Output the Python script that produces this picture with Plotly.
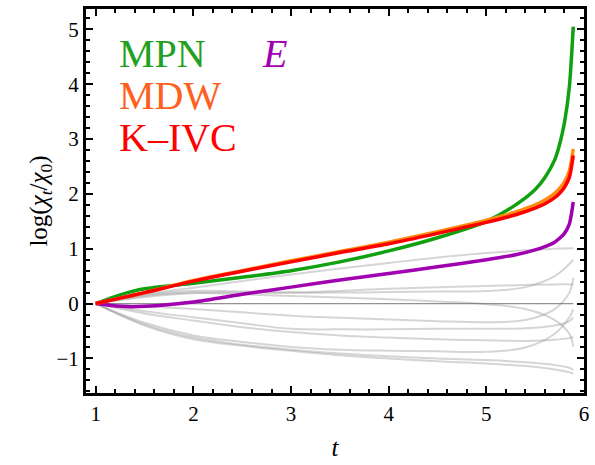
import plotly.graph_objects as go

# ---- data ----
t_main = [1.0, 1.25, 1.5, 2.0, 2.5, 3.0, 3.5, 4.0, 4.5, 5.0, 5.3, 5.5, 5.6, 5.7, 5.75, 5.8, 5.85, 5.89]
mpn   = [0.0, 0.16, 0.27, 0.37, 0.48, 0.60, 0.76, 0.96, 1.20, 1.50, 1.80, 2.08, 2.30, 2.62, 2.90, 3.30, 3.95, 5.05]
mdw   = [0.0, 0.10, 0.20, 0.42, 0.60, 0.78, 0.95, 1.12, 1.31, 1.52, 1.67, 1.80, 1.89, 2.01, 2.10, 2.22, 2.42, 2.82]
kivc  = [0.0, 0.10, 0.20, 0.41, 0.59, 0.76, 0.93, 1.09, 1.28, 1.48, 1.62, 1.74, 1.82, 1.93, 2.01, 2.12, 2.30, 2.70]
e_sym = [0.0, -0.05, -0.05, 0.03, 0.17, 0.30, 0.43, 0.55, 0.67, 0.80, 0.89, 0.98, 1.04, 1.12, 1.19, 1.28, 1.45, 1.85]

t_gray = [1.0, 1.5, 2.0, 2.5, 3.0, 3.5, 4.0, 4.5, 5.0, 5.4, 5.7, 5.85, 5.89]
gray_curves = [
    [0, 0.17, 0.29, 0.41, 0.53, 0.64, 0.74, 0.84, 0.92, 0.97, 1.00, 1.01, 1.01],
    [0, 0.16, 0.23, 0.22, 0.20, 0.20, 0.21, 0.22, 0.23, 0.30, 0.50, 0.72, 0.80],
    [0, 0.14, 0.20, 0.20, 0.20, 0.23, 0.27, 0.30, 0.32, 0.34, 0.35, 0.35, 0.35],
    [0, 0.12, 0.19, 0.17, 0.14, 0.11, 0.08, 0.04, -0.01, -0.10, -0.30, -0.55, -0.79],
    [0, -0.05, -0.10, -0.16, -0.22, -0.26, -0.29, -0.32, -0.34, -0.30, -0.10, 0.20, 0.47],
    [0, -0.14, -0.25, -0.36, -0.46, -0.47, -0.47, -0.46, -0.46, -0.45, -0.40, -0.32, -0.25],
    [0, -0.18, -0.31, -0.43, -0.52, -0.58, -0.62, -0.65, -0.67, -0.68, -0.66, -0.63, -0.61],
    [0, -0.35, -0.58, -0.70, -0.79, -0.84, -0.86, -0.87, -0.88, -0.80, -0.55, -0.25, -0.10],
    [0, -0.38, -0.62, -0.75, -0.84, -0.91, -0.96, -1.00, -1.03, -1.07, -1.12, -1.17, -1.21],
    [0, -0.40, -0.65, -0.77, -0.86, -0.94, -1.00, -1.05, -1.09, -1.14, -1.20, -1.25, -1.28],
]
zero_curve = [0] * len(t_gray)

x_ticks = [1, 2, 3, 4, 5, 6]
y_ticks = [-1, 0, 1, 2, 3, 4, 5]

fig = go.Figure()

for g in gray_curves:
    fig.add_trace(go.Scatter(x=t_gray, y=g, mode="lines",
                             line=dict(color="rgba(150,150,150,0.4)", width=2, shape="spline"),
                             hoverinfo="skip", showlegend=False))
fig.add_trace(go.Scatter(x=t_gray, y=zero_curve, mode="lines",
                         line=dict(color="rgba(110,110,110,0.75)", width=1.4),
                         hoverinfo="skip", showlegend=False))

main = [(e_sym, "#a000b0"), (mpn, "#10a010"), (mdw, "#ff8c10"), (kivc, "#ff0000")]
for vals, col in main:
    fig.add_trace(go.Scatter(x=t_main, y=vals, mode="lines",
                             line=dict(color=col, width=3.5, shape="spline", smoothing=0.7),
                             showlegend=False))

lab_font = "Liberation Serif, serif"
ann = [
    ("MPN", 1.22, 4.56, "#22a022"),
    ("MDW", 1.22, 3.79, "#ff6020"),
    ("K\u2013IVC", 1.22, 3.02, "#ff0000"),
    ("<i>E</i>", 2.68, 4.56, "#a000b0"),
]
for txt, x, y, col in ann:
    fig.add_annotation(x=x, y=y, xref="x", yref="y", text=txt, showarrow=False,
                       xanchor="left", yanchor="middle",
                       font=dict(family=lab_font, size=40, color=col))

axis_common = dict(showgrid=False, zeroline=False, showline=True, linecolor="black", linewidth=3,
                   mirror="allticks", ticks="inside", ticklen=7, tickwidth=2, tickcolor="black",
                   tickfont=dict(family=lab_font, size=21, color="black"))
fig.update_xaxes(range=[0.9, 6.0], tickvals=x_ticks, ticktext=[str(v) for v in x_ticks],
                 minor=dict(ticks="inside", ticklen=4, tickwidth=2, tickcolor="black", dtick=0.2, tick0=0),
                 title=dict(text="<i>t</i>", font=dict(family=lab_font, size=25, color="black"), standoff=14),
                 **axis_common)
fig.update_yaxes(range=[-1.63, 5.37], tickvals=y_ticks, ticktext=["\u22121"] + [str(v) for v in y_ticks[1:]],
                 minor=dict(ticks="inside", ticklen=4, tickwidth=2, tickcolor="black", dtick=0.2, tick0=0),
                 title=dict(text="log(<i>\u03c7</i><sub><i>t</i></sub>/<i>\u03c7</i><sub>0</sub>)",
                            font=dict(family=lab_font, size=25, color="black"), standoff=2),
                 **axis_common)
fig.update_layout(width=595, height=465, margin=dict(l=86, r=8, t=6, b=72),
                  paper_bgcolor="white", plot_bgcolor="white")
fig.write_html("out.html", config={"displayModeBar": False},
               post_script="document.body.style.margin='0';document.body.style.overflow='hidden';")
